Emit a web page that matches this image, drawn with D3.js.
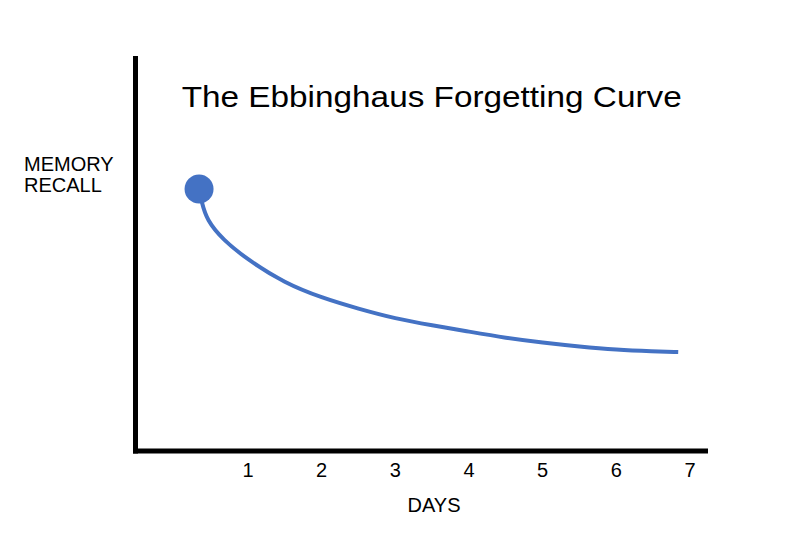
<!DOCTYPE html>
<html>
<head>
<meta charset="utf-8">
<script src="https://cdn.jsdelivr.net/npm/d3@7"></script>
<style>
  body { margin: 0; background: #fff; }
  text { font-family: "Liberation Sans", Arial, sans-serif; fill: #000; }
</style>
</head>
<body>
<svg id="chart" width="800" height="534"></svg>
<script>
// curve values (days, recall on a 0-100 scale)
var days   = [0.336, 0.37, 0.44, 0.66, 1.0, 1.5, 2.0, 2.5, 3.0, 3.5, 4.0, 4.5, 5.0, 5.5, 6.0, 6.5, 6.84];
var recall = [66.5, 63.3, 58.6, 53.6, 48.5, 42.6, 38.9, 36.1, 33.6, 31.9, 30.3, 28.7, 27.5, 26.5, 25.7, 25.3, 25.1];
var dayTicks = [1, 2, 3, 4, 5, 6, 7];
var title = 'The Ebbinghaus Forgetting Curve';
var yLabel = ['MEMORY', 'RECALL'];
var xLabel = 'DAYS';

var svg = d3.select('#chart');

var x = d3.scaleLinear().domain([0, 7]).range([174.3, 690]);
var y = d3.scaleLinear().domain([0, 100]).range([451, 57]);

var points = days.map((d, i) => ({day: d, recall: recall[i]}));

// axes: thick black lines, labels only on x
svg.append('line')
  .attr('x1', 135.5).attr('x2', 135.5)
  .attr('y1', 56).attr('y2', 453.5)
  .attr('stroke', '#000').attr('stroke-width', 5);

svg.append('line')
  .attr('x1', 133).attr('x2', 708)
  .attr('y1', 451).attr('y2', 451)
  .attr('stroke', '#000').attr('stroke-width', 5);

svg.append('g')
  .selectAll('text')
  .data(dayTicks)
  .enter().append('text')
  .attr('x', (d) => x(d))
  .attr('y', 477)
  .attr('text-anchor', 'middle')
  .attr('font-size', 20)
  .text((d) => d);

// the forgetting curve, basis smooths out the reading noise
var line = d3.line()
  .x((d) => x(d.day))
  .y((d) => y(d.recall))
  .curve(d3.curveBasis);

svg.append('path')
  .datum(points)
  .attr('d', line)
  .attr('fill', 'none')
  .attr('stroke', '#4472C4')
  .attr('stroke-width', 4);

svg.append('circle')
  .attr('cx', x(points[0].day))
  .attr('cy', y(points[0].recall))
  .attr('r', 14.5)
  .attr('fill', '#4472C4');

// title is a bit wider than Arial at this size, so stretch to the measured width
svg.append('text')
  .attr('x', 181.7)
  .attr('y', 107)
  .attr('font-size', 30)
  .attr('textLength', 500)
  .attr('lengthAdjust', 'spacingAndGlyphs')
  .text(title);

svg.append('g')
  .selectAll('text')
  .data(yLabel)
  .enter().append('text')
  .attr('x', 24)
  .attr('y', (d, i) => 171 + i * 21)
  .attr('font-size', 20)
  .text((d) => d);

svg.append('text')
  .attr('x', 434)
  .attr('y', 512)
  .attr('text-anchor', 'middle')
  .attr('font-size', 20)
  .text(xLabel);
</script>
</body>
</html>
